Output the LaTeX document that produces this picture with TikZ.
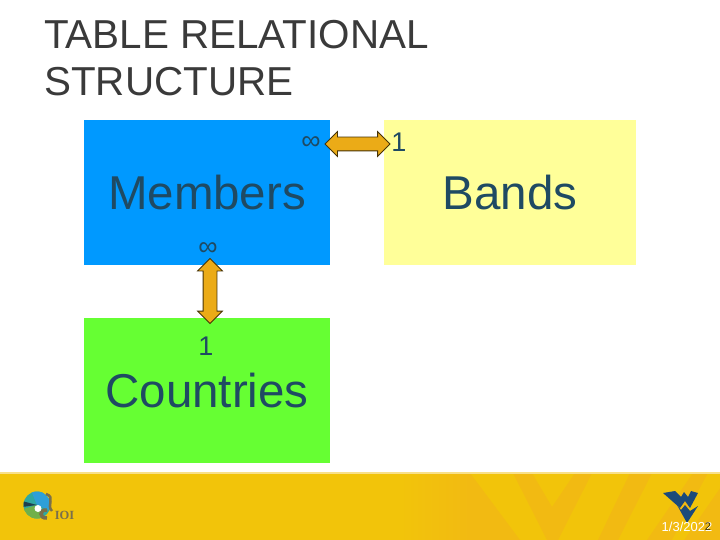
\documentclass[tikz,border=0pt]{standalone}
\usepackage{fontspec}
\setmainfont{Liberation Sans}
\newfontfamily\logofont{Liberation Serif}
\usetikzlibrary{shapes.arrows}
\definecolor{title}{HTML}{3A3A3A}
\definecolor{ink}{HTML}{1F4A63}
\definecolor{gold}{HTML}{F2C40A}
\definecolor{golddark}{HTML}{F2BA12}
\definecolor{goldpale}{HTML}{F8E08A}
\definecolor{arrowfill}{HTML}{EBAB17}
\definecolor{wvblue}{HTML}{1C4A7A}
\definecolor{membersblue}{HTML}{0099FF}
\definecolor{bandsyellow}{HTML}{FFFF99}
\definecolor{countriesgreen}{HTML}{66FF33}
\definecolor{logobrown}{HTML}{7A6F4A}
\definecolor{logoblue}{HTML}{2E9FD8}
\definecolor{logoteal}{HTML}{2FA8A0}
\definecolor{logogreen}{HTML}{6FB04A}
\definecolor{logodark}{HTML}{1F3F4F}
\tikzset{
  table/.style={minimum width=#1,minimum height=145pt,inner sep=0pt,text=ink,font=\fontsize{47.5}{52}\selectfont},
  card/.style={text=ink,inner sep=0pt,font=\fontsize{27}{30}\selectfont},
  link/.style={double arrow,draw=black!70!arrowfill,fill=arrowfill,line width=0.8pt,inner sep=6.5pt,minimum height=65pt,double arrow head extend=5.5pt}
}
\begin{document}
\begin{tikzpicture}[x=1pt,y=-1pt]
  \useasboundingbox (0,0) rectangle (720,540);
  \fill[gold] (0,473) rectangle (720,540);
  \fill[golddark] (513,473) -- (532,473) -- (552,507) -- (575,473) -- (592,473) -- (558,540) -- (547,540) -- cycle;
  \shade[left color=gold,right color=golddark] (400,473) rectangle (470,540);
  \fill[golddark] (469,473) -- (470,473) -- (520,540) -- (469,540) -- cycle;
  \fill[golddark] (630,473) -- (652,473) -- (618,540) -- (598,540) -- cycle;
  \fill[golddark] (693,473) -- (720,473) -- (720,540) -- (647,540) -- cycle;
  \fill[gold] (708,473) -- (720,473) -- (720,488) -- (684,540) -- (672,540) -- cycle;
  \fill[goldpale] (0,472) rectangle (720,474);

  \path
  (44,20) node[anchor=north west,inner sep=0pt,text=title,align=left,font=\fontsize{40.4}{47}\selectfont] (heading) {TABLE RELATIONAL\\STRUCTURE}
  ;
  \path
  (207,192.5) node[table=246pt,fill=membersblue] (members) {Members}
  (510,192.5) node[table=252pt,fill=bandsyellow] (bands) {Bands}
  (207,390.5) node[table=246pt,fill=countriesgreen] (countries) {Countries}
  ;
  \path
  (311,143) node[card] (manyl) {∞}
  (399,142) node[card] (onel) {1}
  (208,249) node[card] (manyc) {∞}
  (206,346) node[card] (onec) {1}
  ;
  \node[link] (linkh) at (357.5,144) {};
  \node[link,rotate=90] (linkv) at (210,291) {};

  \begin{scope}
    \clip (37,505) circle (13.5);
    \fill[logoteal] (20,488) rectangle (54,522);
    \fill[logoblue] (37,505) -- (30,488) -- (54,488) -- (54,512) -- cycle;
    \fill[logogreen] (37,505) -- (20,510) -- (20,522) -- (44,522) -- cycle;
    \fill[logodark] (37,505) -- (22,501) -- (22,507) -- cycle;
  \end{scope}
  \draw[logobrown,line width=2.5pt] (46,494) .. controls (56,497) and (46,505) .. (52,511);
  \draw[logobrown,line width=3.5pt] (47,510) .. controls (39,509) and (39,519) .. (47,518);
  \fill[white] (38,508.5) circle (3.5);
  \path (64.5,515.5) node[inner sep=0pt,text=logobrown,font=\logofont\bfseries\fontsize{12.5}{14}\selectfont] (ioi) {IOI};

  \fill[wvblue] (663,493) -- (675,491) -- (681,497) -- (684,492) -- (688,497) -- (691,491) -- (698,493) -- (690,508) -- (685,501) -- (680,508) -- cycle;
  \fill[wvblue] (677,505) -- (681,510) -- (685,505) -- (690,511) -- (698,506) -- (687,523) -- cycle;
  \path
  (687,527) node[inner sep=0pt,text=white,font=\fontsize{13}{16}\selectfont] (date) {1/3/2022}
  (708,527) node[inner sep=0pt,text=black!75!gold,font=\fontsize{11}{14}\selectfont] (slideno) {2}
  ;
\end{tikzpicture}
\end{document}
